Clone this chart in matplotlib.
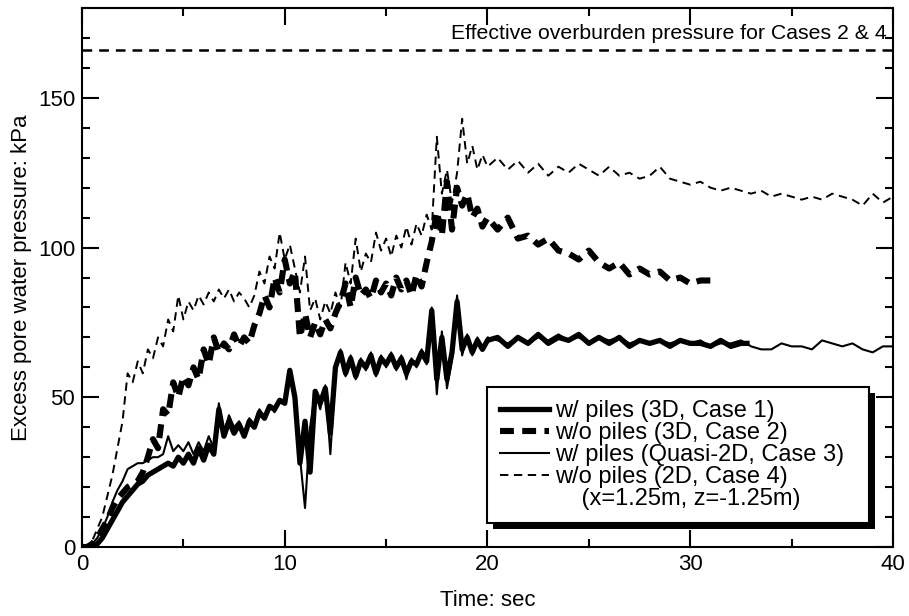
import matplotlib
matplotlib.use("Agg")
import matplotlib.pyplot as plt
import numpy as np
from matplotlib.lines import Line2D
from matplotlib.ticker import MultipleLocator
import matplotlib.patheffects as pe

plt.rcParams['font.family'] = ['Liberation Sans', 'DejaVu Sans']
plt.rcParams['lines.scale_dashes'] = False

# time grid: 0.25 s up to 20 s
t_early = [i * 0.25 for i in range(81)]

# Case 1: w/ piles (3D)
case1_early = [0, 0, 0, 1, 3, 6, 9, 12, 15, 17, 19, 21, 22, 24, 25, 26, 27, 28, 27, 30,
               28, 31, 28, 33, 29, 34, 31, 46, 37, 42, 38, 41, 37, 42, 40, 45, 43, 47, 46, 49,
               48, 59, 50, 28, 42, 25, 52, 48, 53, 38, 60, 65, 58, 63, 57, 62, 60, 64, 58, 63,
               61, 64, 60, 63, 58, 62, 61, 65, 62, 79, 56, 70, 56, 65, 82, 66, 70, 65, 69, 66, 69]
case1_t_late = [20.5, 21, 21.5, 22, 22.5, 23, 23.5, 24, 24.5, 25, 25.5, 26, 26.5, 27, 27.5,
                28, 28.5, 29, 29.5, 30, 30.5, 31, 31.5, 32, 32.5, 32.8]
case1_late = [70, 67, 70, 68, 71, 68, 70, 69, 71, 68, 70, 68, 70, 67, 69,
              68, 69, 67, 69, 68, 68, 67, 69, 67, 68, 68]

# Case 2: w/o piles (3D)
case2_early = [0, 0, 1, 3, 6, 9, 13, 16, 18, 20, 21, 22, 25, 30, 36, 33, 46, 44, 55, 50,
               57, 54, 60, 56, 66, 61, 70, 65, 68, 66, 71, 67, 70, 68, 74, 78, 84, 80, 90, 85,
               96, 88, 92, 70, 78, 70, 75, 71, 76, 73, 78, 82, 88, 80, 90, 84, 86, 83, 89, 85,
               88, 84, 90, 86, 89, 84, 91, 87, 95, 102, 112, 104, 122, 106, 120, 114, 118, 110, 113, 107, 110]
case2_t_late = [20.5, 21, 21.5, 22, 22.5, 23, 23.5, 24, 24.5, 25, 25.5, 26, 26.5, 27, 27.5,
                28, 28.5, 29, 29.5, 30, 30.5, 31, 31.3]
case2_late = [106, 110, 103, 104, 101, 103, 99, 98, 96, 99, 95, 93, 95, 91, 93,
              91, 92, 89, 90, 88, 89, 89, 88]

# Case 3: w/ piles (Quasi-2D)
case3_early = [0, 0, 1, 3, 6, 10, 15, 19, 22, 26, 27, 28, 28, 29, 30, 30, 31, 37, 32, 34,
               32, 35, 31, 35, 32, 37, 33, 48, 38, 44, 40, 42, 38, 43, 41, 46, 43, 47, 45, 49,
               48, 58, 49, 30, 13, 40, 52, 46, 54, 31, 58, 66, 57, 64, 56, 63, 59, 65, 57, 64,
               60, 65, 59, 64, 56, 63, 60, 66, 61, 80, 51, 72, 53, 63, 84, 64, 71, 64, 70, 66, 70]
case3_t_late = [20.5, 21, 21.5, 22, 22.5, 23, 23.5, 24, 24.5, 25, 25.5, 26, 26.5, 27, 27.5,
                28, 28.5, 29, 29.5, 30, 30.5, 31, 31.5, 32, 32.5, 33, 33.5, 34, 34.5, 35,
                35.5, 36, 36.5, 37, 37.5, 38, 38.5, 39, 39.5, 40]
case3_late = [69, 68, 70, 68, 70, 69, 71, 69, 70, 68, 70, 69, 70, 68, 69,
              68, 69, 68, 69, 68, 69, 67, 68, 68, 69, 67, 66, 66, 68, 67,
              67, 66, 69, 68, 67, 68, 66, 65, 67, 67]

# Case 4: w/o piles (2D)
case4_early = [0, 0.5, 2, 6, 10, 17, 24, 33, 42, 58, 55, 62, 58, 66, 63, 70, 67, 76, 72, 84,
               76, 82, 79, 84, 81, 85, 82, 86, 83, 86, 82, 85, 83, 80, 84, 92, 88, 97, 93, 105,
               96, 101, 93, 85, 97, 79, 83, 76, 82, 78, 85, 80, 95, 88, 103, 92, 98, 95, 105, 99,
               103, 97, 104, 100, 107, 101, 108, 104, 111, 106, 137, 118, 126, 115, 125, 143, 128, 134, 126, 131, 127]
case4_t_late = case3_t_late
case4_late = [130, 126, 129, 125, 128, 124, 127, 125, 128, 126, 124, 127, 124, 125, 123,
              124, 127, 123, 122, 121, 122, 120, 119, 120, 119, 118, 119, 117, 118, 117,
              116, 117, 116, 118, 117, 116, 114, 118, 115, 117]

overburden = 166

fig = plt.figure(figsize=(9.09, 6.16), dpi=100)
ax = fig.add_axes([0.0902, 0.112, 0.8922, 0.875])

ax.plot(t_early + case4_t_late, case4_early + case4_late, color='k', lw=1.4,
        dashes=(6, 4), label='w/o piles (2D, Case 4)')
ax.plot(t_early + case2_t_late, case2_early + case2_late, color='k', lw=4.4,
        dashes=(10, 6), label='w/o piles (3D, Case 2)')
ax.plot(t_early + case3_t_late, case3_early + case3_late, color='k', lw=1.5,
        label='w/ piles (Quasi-2D, Case 3)')
ax.plot(t_early + case1_t_late, case1_early + case1_late, color='k', lw=3.8,
        label='w/ piles (3D, Case 1)')

ax.axhline(overburden, color='k', lw=1.8, dashes=(7, 5))
ax.text(39.7, 168.3, 'Effective overburden pressure for Cases 2 & 4',
        ha='right', va='bottom', fontsize=15.3)

ax.set_xlim(0, 40)
ax.set_ylim(0, 180)
ax.xaxis.set_major_locator(MultipleLocator(10))
ax.xaxis.set_minor_locator(MultipleLocator(5))
ax.yaxis.set_major_locator(MultipleLocator(50))
ax.yaxis.set_minor_locator(MultipleLocator(10))
ax.tick_params(which='both', direction='in', top=True, right=True, width=1.5,
               labelsize=16)
ax.tick_params(which='major', length=12, pad=5)
ax.tick_params(which='minor', length=6)
for s in ax.spines.values():
    s.set_linewidth(1.5)

ax.set_xlabel('Time: sec', fontsize=16, labelpad=11)
ax.set_ylabel('Excess pore water pressure: kPa', fontsize=16, labelpad=4)

h, l = ax.get_legend_handles_labels()
order = [3, 1, 2, 0]
handles = [h[i] for i in order] + [Line2D([], [], color='none')]
labels = [l[i] for i in order] + ['    (x=1.25m, z=-1.25m)']
leg = ax.legend(handles, labels, loc='lower left', bbox_to_anchor=(0.5, 0.0445, 0.471, 0.25),
                mode='expand', fontsize=17, fancybox=False, framealpha=1, edgecolor='k',
                handlelength=2.05, handletextpad=0.25, labelspacing=0.0,
                borderpad=0.55, borderaxespad=0)
frame = leg.get_frame()
frame.set_linewidth(1.5)
frame.set_path_effects([pe.SimplePatchShadow(offset=(4, -4), shadow_rgbFace='k', alpha=1),
                        pe.Normal()])

fig.savefig('out.png', dpi=100)
